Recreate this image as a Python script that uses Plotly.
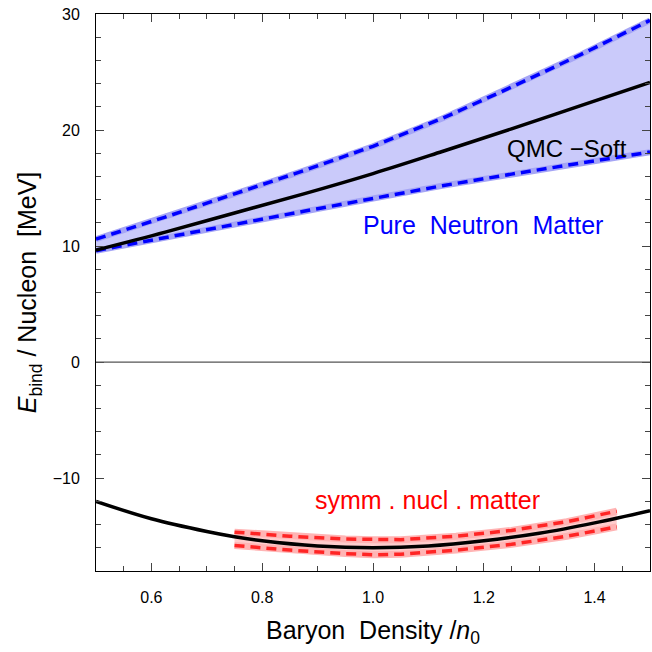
import plotly.graph_objects as go

# Pure neutron matter (QMC-Soft) central curve
nm_x = [0.5, 0.625, 0.75, 0.875, 1.0, 1.125, 1.25, 1.375, 1.5]
nm_y = [9.65, 11.2, 12.85, 14.5, 16.25, 18.15, 20.1, 22.1, 24.1]
# Pure neutron matter band edges
nm_up_y = [10.6, 12.5, 14.5, 16.5, 18.6, 21.0, 23.7, 26.5, 29.45]
nm_lo_y = [9.6, 10.75, 11.9, 13.0, 14.1, 15.2, 16.2, 17.15, 18.1]

# Symmetric nuclear matter central curve
snm_x = [0.5, 0.6, 0.7, 0.75, 0.8, 0.9, 1.0, 1.1, 1.2, 1.3, 1.4, 1.5]
snm_y = [-12.0, -13.5, -14.6, -15.05, -15.4, -15.85, -16.0, -15.85, -15.4, -14.75, -13.85, -12.8]
# Symmetric nuclear matter band
band_x = [0.75, 0.85, 0.95, 1.0, 1.05, 1.15, 1.25, 1.35, 1.44]
band_up = [-14.65, -15.0, -15.25, -15.3, -15.3, -15.0, -14.5, -13.75, -12.85]
band_lo = [-15.8, -16.2, -16.5, -16.6, -16.55, -16.2, -15.7, -15.0, -14.2]

x_ticks = [0.6, 0.8, 1.0, 1.2, 1.4]
y_ticks = [-10, 0, 10, 20, 30]

fig = go.Figure()

# Neutron matter band fill
fig.add_trace(go.Scatter(x=nm_x, y=nm_lo_y, mode="lines", line=dict(width=0),
                         showlegend=False, hoverinfo="skip"))
fig.add_trace(go.Scatter(x=nm_x, y=nm_up_y, mode="lines", line=dict(width=0),
                         fill="tonexty", fillcolor="rgba(202,202,250,1)",
                         showlegend=False, hoverinfo="skip"))
for yy in (nm_up_y, nm_lo_y):
    fig.add_trace(go.Scatter(x=nm_x, y=yy, mode="lines",
                             line=dict(color="rgba(165,165,245,1)", width=6),
                             showlegend=False, hoverinfo="skip"))
    fig.add_trace(go.Scatter(x=nm_x, y=yy, mode="lines",
                             line=dict(color="#0000ff", width=3.5, dash="10px,6px"),
                             showlegend=False, hoverinfo="skip"))

# Symmetric matter band fill
fig.add_trace(go.Scatter(x=band_x, y=band_lo, mode="lines", line=dict(width=0),
                         showlegend=False, hoverinfo="skip"))
fig.add_trace(go.Scatter(x=band_x, y=band_up, mode="lines", line=dict(width=0),
                         fill="tonexty", fillcolor="rgba(255,205,205,1)",
                         showlegend=False, hoverinfo="skip"))
for yy in (band_up, band_lo):
    fig.add_trace(go.Scatter(x=band_x, y=yy, mode="lines",
                             line=dict(color="rgba(255,180,180,1)", width=7),
                             showlegend=False, hoverinfo="skip"))
    fig.add_trace(go.Scatter(x=band_x, y=yy, mode="lines",
                             line=dict(color="#ff2525", width=3.5, dash="10px,6px"),
                             showlegend=False, hoverinfo="skip"))

# Central curves
fig.add_trace(go.Scatter(x=nm_x, y=nm_y, mode="lines",
                         line=dict(color="black", width=3.5, shape="spline"),
                         showlegend=False))
fig.add_trace(go.Scatter(x=snm_x, y=snm_y, mode="lines",
                         line=dict(color="black", width=3.5, shape="spline"),
                         showlegend=False))

font_family = "Liberation Sans, Arial, sans-serif"

fig.add_annotation(x=1.35, y=18.45, text="QMC \u2212Soft", showarrow=False,
                   font=dict(family=font_family, size=24, color="black"))
fig.add_annotation(x=1.198, y=11.8, text="Pure  Neutron  Matter", showarrow=False,
                   font=dict(family=font_family, size=25, color="#0000ff"))
fig.add_annotation(x=1.098, y=-11.9, text="symm . nucl . matter", showarrow=False,
                   font=dict(family=font_family, size=25, color="#ff0000"))

axis_common = dict(showgrid=False, showline=True, linecolor="black", linewidth=1,
                   mirror="ticks", ticks="inside", ticklen=8, tickcolor="#444",
                   tickfont=dict(family=font_family, size=16, color="black"),
                   zeroline=False, automargin=False)

fig.update_xaxes(range=[0.5, 1.5], tickvals=x_ticks, ticktext=[f"{v:.1f}" for v in x_ticks],
                 minor=dict(dtick=0.05, tick0=0.5, ticks="inside", ticklen=5, tickcolor="#444"),
                 ticklabelstandoff=12,
                 title=dict(text="Baryon  Density /<i>n</i><sub>0</sub>",
                            font=dict(family=font_family, size=25, color="black"), standoff=16),
                 **axis_common)
fig.update_yaxes(range=[-18, 30], tickvals=y_ticks,
                 ticktext=[str(v) if v >= 0 else "\u2212" + str(-v) for v in y_ticks],
                 minor=dict(dtick=2, tick0=0, ticks="inside", ticklen=5, tickcolor="#444"),
                 ticklabelstandoff=12,
                 title=dict(text="<i>E</i><sub>bind</sub> / Nucleon  [MeV]",
                            font=dict(family=font_family, size=25, color="black"), standoff=8),
                 **axis_common)

# zero line
fig.add_shape(type="line", xref="paper", x0=0, x1=1, yref="y", y0=0, y1=0,
              line=dict(color="#555", width=1.2))

fig.update_layout(width=652, height=652, plot_bgcolor="white", paper_bgcolor="white",
                  margin=dict(l=96, r=2, t=14, b=81), showlegend=False)

fig.write_html("out.html", config={"displayModeBar": False},
               post_script="document.body.style.margin='0';document.body.style.overflow='hidden';")
